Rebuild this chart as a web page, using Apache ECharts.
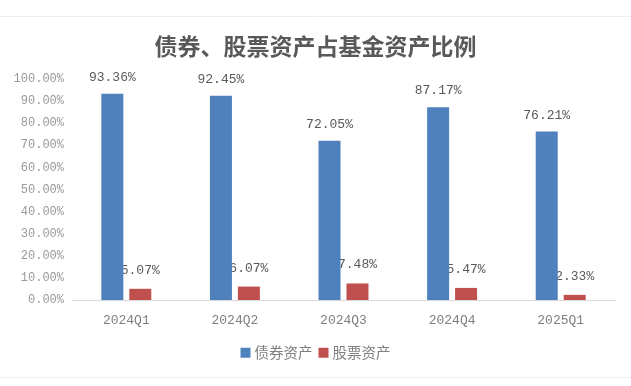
<!DOCTYPE html>
<html>
<head>
<meta charset="utf-8">
<script src="https://cdn.jsdelivr.net/npm/echarts@6/dist/echarts.min.js"></script>
<style>
html,body{margin:0;padding:0;background:#fff;}
#c{width:631px;height:386px;}
</style>
</head>
<body>
<div id="c"></div>
<script>
const categories = ['2024Q1','2024Q2','2024Q3','2024Q4','2025Q1'];
const bondValues = [93.36, 92.45, 72.05, 87.17, 76.21];
const stockValues = [5.07, 6.07, 7.48, 5.47, 2.33];
const seriesNames = ['债券资产','股票资产'];
const titleText = '债券、股票资产占基金资产比例';

const chart = echarts.init(document.getElementById('c'), null, {renderer:'canvas'});
const mono = "'Liberation Mono', 'DejaVu Sans Mono', monospace";
const cjk = "'Noto Sans CJK SC', sans-serif";
chart.setOption({
  animation:false,
  backgroundColor:'#fff',
  title:{
    text:titleText, left:'center', top:30,
    textStyle:{fontFamily:cjk, fontSize:23, fontWeight:'bold', color:'#595959'}
  },
  graphic:[
    {type:'line', shape:{x1:0,y1:16.5,x2:631,y2:16.5}, style:{stroke:'#eeeeee', lineWidth:1}},
    {type:'line', shape:{x1:0,y1:377.5,x2:631,y2:377.5}, style:{stroke:'#eeeeee', lineWidth:1}}
  ],
  legend:{
    data:seriesNames, bottom:21, left:'center',
    itemWidth:10, itemHeight:10, itemGap:6,
    icon:'rect',
    textStyle:{fontFamily:cjk, fontSize:14.5, color:'#7f7f7f', padding:[0,0,0,-1]}
  },
  grid:{left:72, right:16, top:79, bottom:86},
  xAxis:{
    type:'category', data:categories,
    axisLine:{lineStyle:{color:'#d9d9d9'}},
    axisTick:{show:false},
    axisLabel:{fontFamily:mono, fontSize:13, color:'#7f7f7f', margin:14}
  },
  yAxis:{
    type:'value', min:0, max:100, interval:10,
    axisLine:{show:false}, axisTick:{show:false},
    splitLine:{show:false},
    axisLabel:{fontFamily:mono, fontSize:12, color:'#999999', margin:8,
      formatter:v=>v.toFixed(2)+'%'}
  },
  series:[
    {
      name:seriesNames[0], type:'bar', data:bondValues, z:3,
      barGap:'27%', barCategoryGap:'54%',
      itemStyle:{color:'#4f81bd'},
      label:{show:true, position:'top', distance:10, fontFamily:mono, fontSize:13, color:'#595959',
        formatter:p=>p.value.toFixed(2)+'%'}
    },
    {
      name:seriesNames[1], type:'bar', data:stockValues, z:2,
      barGap:'27%', barCategoryGap:'54%',
      itemStyle:{color:'#c0504d'},
      label:{show:true, position:'top', distance:12, fontFamily:mono, fontSize:13, color:'#595959',
        formatter:p=>p.value.toFixed(2)+'%'}
    }
  ]
});
</script>
</body>
</html>
